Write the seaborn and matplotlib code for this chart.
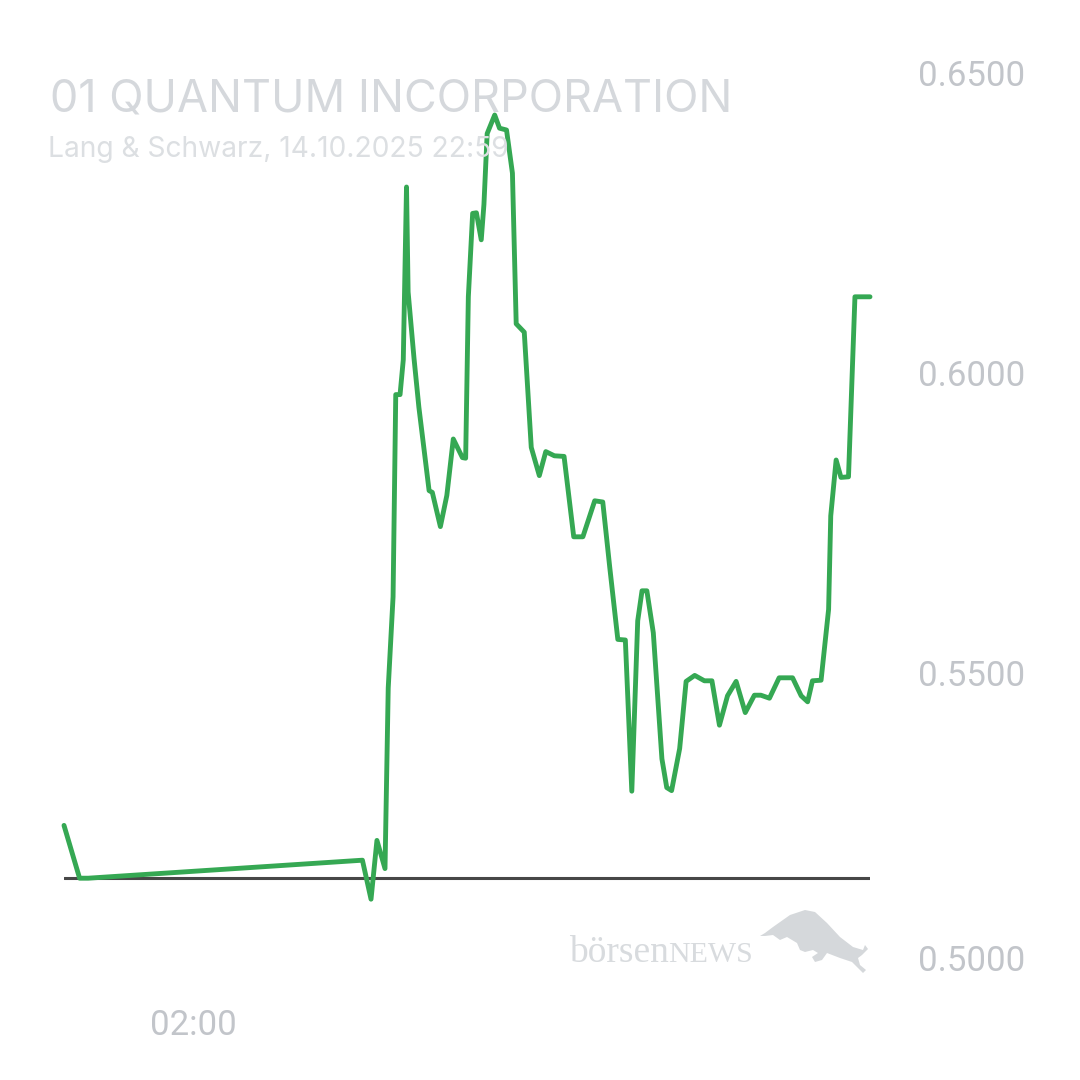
import numpy as np
import pandas as pd
import seaborn as sns
import matplotlib
matplotlib.use("Agg")
import matplotlib.pyplot as plt
import matplotlib.dates as mdates
from matplotlib.ticker import FormatStrFormatter
from matplotlib.transforms import ScaledTranslation
from matplotlib.patches import Polygon

# ---------------- data ----------------
times = [
    "2025-10-13 22:00", "2025-10-13 22:29", "2025-10-13 22:45",
    "2025-10-14 07:15", "2025-10-14 07:31", "2025-10-14 07:42", "2025-10-14 07:57",
    "2025-10-14 08:03", "2025-10-14 08:12", "2025-10-14 08:17", "2025-10-14 08:25",
    "2025-10-14 08:31", "2025-10-14 08:37", "2025-10-14 08:40", "2025-10-14 08:51",
    "2025-10-14 09:00", "2025-10-14 09:19", "2025-10-14 09:25", "2025-10-14 09:40",
    "2025-10-14 09:52", "2025-10-14 10:04", "2025-10-14 10:21", "2025-10-14 10:27",
    "2025-10-14 10:32", "2025-10-14 10:40", "2025-10-14 10:47", "2025-10-14 10:56",
    "2025-10-14 11:01", "2025-10-14 11:07", "2025-10-14 11:21", "2025-10-14 11:30",
    "2025-10-14 11:43", "2025-10-14 11:54", "2025-10-14 12:01", "2025-10-14 12:16",
    "2025-10-14 12:29", "2025-10-14 12:44", "2025-10-14 12:56", "2025-10-14 13:12",
    "2025-10-14 13:30", "2025-10-14 13:48", "2025-10-14 14:05", "2025-10-14 14:27",
    "2025-10-14 14:42", "2025-10-14 14:55", "2025-10-14 15:10", "2025-10-14 15:24",
    "2025-10-14 15:36", "2025-10-14 15:47", "2025-10-14 15:55", "2025-10-14 16:04",
    "2025-10-14 16:16", "2025-10-14 16:32", "2025-10-14 16:41", "2025-10-14 16:50",
    "2025-10-14 17:05", "2025-10-14 17:17", "2025-10-14 17:33", "2025-10-14 17:51",
    "2025-10-14 18:05", "2025-10-14 18:19", "2025-10-14 18:34", "2025-10-14 18:50",
    "2025-10-14 19:07", "2025-10-14 19:24", "2025-10-14 19:36", "2025-10-14 19:52",
    "2025-10-14 20:10", "2025-10-14 20:35", "2025-10-14 20:51", "2025-10-14 21:03",
    "2025-10-14 21:12", "2025-10-14 21:28", "2025-10-14 21:42", "2025-10-14 21:46",
    "2025-10-14 21:56", "2025-10-14 22:05", "2025-10-14 22:19", "2025-10-14 22:31",
    "2025-10-14 22:59",
]
prices = [
    0.5246, 0.5158, 0.5158,
    0.5188, 0.5123, 0.5221, 0.5174,
    0.5475, 0.5627, 0.5964, 0.5964,
    0.6022, 0.6310, 0.6135, 0.6024,
    0.5943, 0.5804, 0.5801, 0.5744,
    0.5796, 0.5890, 0.5859, 0.5858,
    0.6127, 0.6266, 0.6267, 0.6222,
    0.6281, 0.6399, 0.6430, 0.6408,
    0.6405, 0.6333, 0.6082, 0.6068,
    0.5876, 0.5829, 0.5869, 0.5862,
    0.5861, 0.5727, 0.5727, 0.5787,
    0.5785, 0.5676, 0.5556, 0.5555,
    0.5303, 0.5587, 0.5637, 0.5637,
    0.5567, 0.5357, 0.5309, 0.5304,
    0.5374, 0.5486, 0.5496, 0.5487,
    0.5487, 0.5413, 0.5462, 0.5486,
    0.5434, 0.5463, 0.5463, 0.5458,
    0.5492, 0.5492, 0.5462, 0.5452,
    0.5487, 0.5488, 0.5606, 0.5762,
    0.5855, 0.5826, 0.5827, 0.6127,
    0.6127,
]
prev_close = 0.5158
y_ticks = [0.50, 0.55, 0.60, 0.65]
x_range = ["2025-10-13 22:00", "2025-10-14 22:59"]
x_tick_times = ["2025-10-14 02:00"]
x_tick_labels = ["02:00"]
title = "01 QUANTUM INCORPORATION"
subtitle = "Lang & Schwarz, 14.10.2025 22:59"

# ---------------- style ----------------
sns.set_theme(style="white")
plt.rcParams['font.family'] = ['Roboto', 'DejaVu Sans']

df = pd.DataFrame({"time": pd.to_datetime(times), "price": prices})

W = 1080
fig = plt.figure(figsize=(10.8, 10.8), dpi=100)
fig.patch.set_facecolor("white")
ax = fig.add_axes([64 / W, 1 - 973 / W, 806 / W, 900 / W])
ax.set_facecolor("none")

ax.axhline(prev_close, color="#474747", lw=2.2, zorder=1)
sns.lineplot(data=df, x="time", y="price", ax=ax, color="#35A853",
             lw=3.5, zorder=2, estimator=None, clip_on=False)

ax.set_xlim(mdates.date2num(pd.Timestamp(x_range[0])),
            mdates.date2num(pd.Timestamp(x_range[1])))
ax.set_ylim(y_ticks[0], y_ticks[-1])

for s in ax.spines.values():
    s.set_visible(False)
ax.grid(False)
ax.set_xlabel("")
ax.set_ylabel("")

label_color = "#c2c5ca"
ax.yaxis.tick_right()
ax.set_yticks(y_ticks)
ax.yaxis.set_major_formatter(FormatStrFormatter("%.4f"))
ax.tick_params(axis="y", length=0, pad=34.5, labelsize=25, labelcolor=label_color)

ax.set_xticks([mdates.date2num(pd.Timestamp(t)) for t in x_tick_times])
ax.set_xticklabels(x_tick_labels)
ax.tick_params(axis="x", length=0, pad=26, labelsize=25, labelcolor=label_color)

# lowest label sits slightly above its level (kept inside the frame)
fig.canvas.draw()
for tick in ax.yaxis.get_major_ticks():
    if abs(tick.get_loc() - y_ticks[0]) < 1e-9:
        tick.label2.set_transform(tick.label2.get_transform() +
                                  ScaledTranslation(0, 15 / 100, fig.dpi_scale_trans))

# header
fig.text(50 / W, 1 - 111 / W, title, fontsize=32.4, color="#d5d8dc",
         family=["Inter", "Roboto", "DejaVu Sans"], va="baseline", ha="left")
fig.text(48 / W, 1 - 157 / W, subtitle, fontsize=20.3, color="#dcdfe2",
         family=["Inter", "Roboto", "DejaVu Sans"], va="baseline", ha="left")

# watermark (logo)
wm = "#d8dbde"
fig.text(569 / W, 1 - 962 / W, "börsen", fontsize=27, color=wm,
         family=["Liberation Serif", "DejaVu Serif"], va="baseline", ha="left", zorder=0)
fig.text(668 / W, 1 - 962 / W, "NEWS", fontsize=21.5, color=wm,
         family=["Liberation Serif", "DejaVu Serif"], va="baseline", ha="left", zorder=0)
bull_px = [(760, 936), (765, 933), (773, 927), (790, 915), (805, 910), (815, 912),
           (827, 923), (840, 937), (853, 947), (863, 950), (865, 945), (868, 949),
           (862, 955), (858, 958), (860, 965), (866, 970), (863, 973), (857, 967),
           (852, 962), (840, 958), (827, 953), (822, 960), (815, 962), (812, 957),
           (818, 953), (813, 950), (805, 952), (800, 950), (797, 943), (787, 937),
           (780, 940), (773, 935), (765, 936)]
bull = Polygon([(x / W, 1 - y / W) for x, y in bull_px], closed=True,
               transform=fig.transFigure, facecolor="#d5d8db", edgecolor="none", zorder=0)
fig.patches.append(bull)

fig.savefig("out.png", dpi=100, facecolor="white")
